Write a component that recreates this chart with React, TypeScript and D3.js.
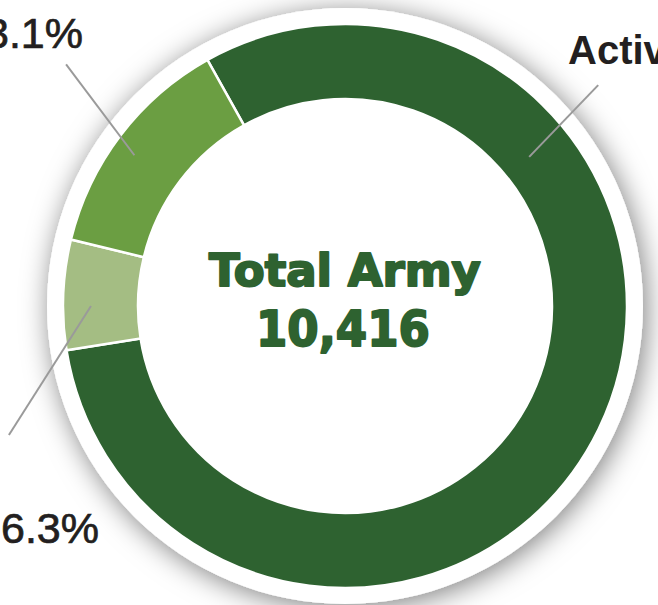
import React from "react";
import * as d3 from "d3";

const categories = ["Active", "National Guard", "Reserve"];
const shares = [80.6, 6.3, 13.1];
const colors = ["#2e6230", "#a4bd83", "#6b9e42"];
const percentLabels = ["Active", "6.3%", "13.1%"];
const centerTitle = "Total Army";
const centerTotal = "10,416";

const W = 658;
const H = 605;
const cx = 345;
const cy = 306;
const outerR = 282;
const innerR = 207;
const diskR = 298;
const startDeg = -29.2;

const toRad = (d: number) => (d * Math.PI) / 180;
const polar = (deg: number, r: number): [number, number] => [
  cx + r * Math.sin(toRad(deg)),
  cy - r * Math.cos(toRad(deg)),
];

// leader lines as polar [angle, radius] pairs (annotation layout)
const leaders: [number, number, number, number][] = [
  [51.0, 237, 48.9, 336], // Active
  [270.0, 254, 249.0, 360], // 6.3%
  [305.6, 259, 310.9, 369], // 13.1%
];

export default function App() {
  const pie = d3
    .pie<number>()
    .sort(null)
    .value((d) => d)
    .startAngle(toRad(startDeg))
    .endAngle(toRad(startDeg) + Math.PI * 2);
  const arcs = pie(shares);
  const arc = d3
    .arc<d3.PieArcDatum<number>>()
    .innerRadius(innerR)
    .outerRadius(outerR);

  return (
    <svg
      width={W}
      height={H}
      style={{ position: "fixed", left: 0, top: 0, background: "#fff" }}
    >
      <defs>
        <filter id="sh" x="-30%" y="-30%" width="160%" height="160%">
          <feDropShadow dx="3" dy="4" stdDeviation="14" floodColor="#000" floodOpacity="0.5" />
        </filter>
      </defs>
      <rect width={W} height={H} fill="#fff" />
      <circle cx={cx} cy={cy} r={diskR} fill="#fff" filter="url(#sh)" />
      <g transform={`translate(${cx},${cy})`}>
        {arcs.map((a, i) => (
          <path
            key={categories[i]}
            d={arc(a) || ""}
            fill={colors[i]}
            stroke="#fff"
            strokeWidth={2.5}
          />
        ))}
      </g>
      {leaders.map((l, i) => {
        const [x1, y1] = polar(l[0], l[1]);
        const [x2, y2] = polar(l[2], l[3]);
        return (
          <line
            key={i}
            x1={x1}
            y1={y1}
            x2={x2}
            y2={y2}
            stroke="#9a9a9a"
            strokeWidth={2}
          />
        );
      })}
      <text
        x={568}
        y={64}
        fontFamily="Liberation Sans, Arial, sans-serif"
        fontWeight={700}
        fontSize={40}
        fill="#231f20"
      >
        {percentLabels[0]}
      </text>
      <text
        x={1}
        y={543}
        fontFamily="Liberation Sans, Arial, sans-serif"
        fontSize={43}
        fill="#231f20"
        stroke="#231f20"
        strokeWidth={0.7}
      >
        {percentLabels[1]}
      </text>
      <text
        x={83}
        y={48}
        textAnchor="end"
        fontFamily="Liberation Sans, Arial, sans-serif"
        fontSize={43}
        fill="#231f20"
        stroke="#231f20"
        strokeWidth={0.7}
      >
        {percentLabels[2]}
      </text>
      <text
        x={cx}
        y={286}
        textAnchor="middle"
        fontFamily="DejaVu Sans, sans-serif"
        fontWeight={700}
        fontSize={45}
        fill="#2e6230"
        stroke="#2e6230"
        strokeWidth={2}
        strokeLinejoin="round"
      >
        {centerTitle}
      </text>
      <text
        x={cx - 2}
        y={346}
        textAnchor="middle"
        fontFamily="DejaVu Sans, sans-serif"
        fontWeight={700}
        fontSize={50}
        fill="#2e6230"
        stroke="#2e6230"
        strokeWidth={2}
        strokeLinejoin="round"
        textLength={174}
        lengthAdjust="spacingAndGlyphs"
      >
        {centerTotal}
      </text>
    </svg>
  );
}
